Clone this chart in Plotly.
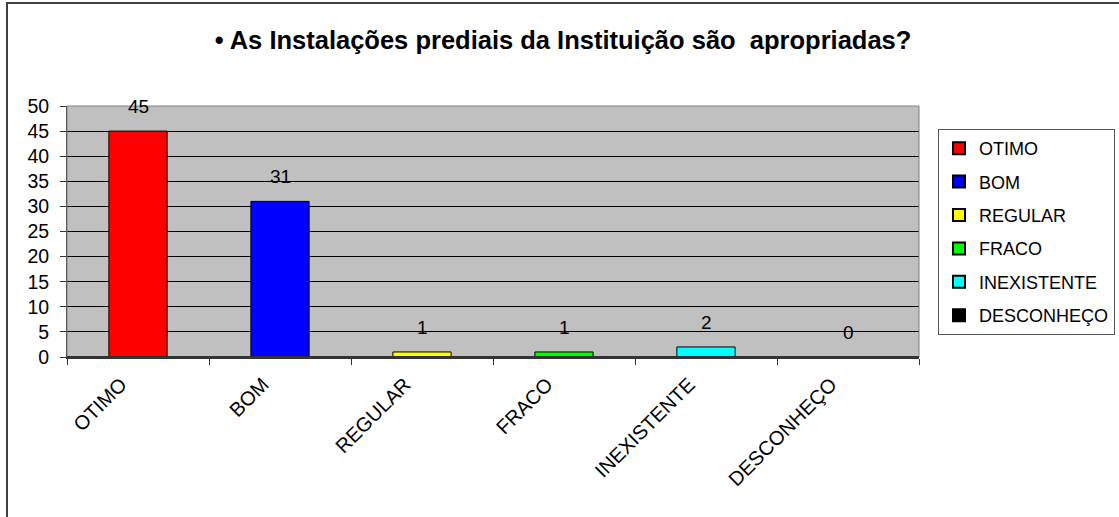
import plotly.graph_objects as go

categories = ["OTIMO", "BOM", "REGULAR", "FRACO", "INEXISTENTE", "DESCONHEÇO"]
values = [45, 31, 1, 1, 2, 0]
colors = ["#FF0000", "#0000FF", "#FFFF00", "#00FF00", "#00FFFF", "#000000"]
title_text = "• As Instalações prediais da Instituição são  apropriadas?"

W, H = 1119, 517
L, R, T, B = 67, 200, 106, 160
pw = W - L - R
ph = H - T - B
FONT = "Liberation Sans, Arial, sans-serif"

fig = go.Figure()
for i, (c, v, col) in enumerate(zip(categories, values, colors)):
    fig.add_trace(go.Bar(
        x=[c], y=[v], name=c, width=0.41,
        marker=dict(color=col, line=dict(color="black", width=1)),
        legendgroup=str(i),
    ))

annotations = [
    dict(x=c, y=v, xref="x", yref="y", text=str(v), showarrow=False,
         yanchor="bottom", yshift=12,
         font=dict(family=FONT, size=19, color="black"))
    for c, v in zip(categories, values)
]

fig.update_layout(
    width=W, height=H,
    margin=dict(l=L, r=R, t=T, b=B, autoexpand=False),
    paper_bgcolor="white",
    plot_bgcolor="#C0C0C0",
    barmode="overlay",
    font=dict(family=FONT, color="black"),
    title=dict(text="<b>" + title_text + "</b>", x=563 / W, xanchor="center",
               y=1 - 40 / H, yanchor="middle",
               font=dict(family=FONT, size=25.5, color="black")),
    showlegend=True,
    legend=dict(x=(1115 - L) / pw, xanchor="right", y=(357 - 129) / ph, yanchor="top",
                bgcolor="white", bordercolor="#555555", borderwidth=1,
                font=dict(family=FONT, size=18, color="black"),
                traceorder="grouped", tracegroupgap=7,
                itemsizing="constant", itemwidth=30),
    xaxis=dict(categoryorder="array", categoryarray=categories,
               tickangle=-45, tickfont=dict(family=FONT, size=20),
               ticks="outside", tickson="boundaries", ticklen=6, tickcolor="#333333",
               ticklabelshift=-17, ticklabelstandoff=6,
               showline=True, linecolor="#333333", linewidth=2, mirror=False,
               showgrid=False),
    yaxis=dict(range=[0, 50], dtick=5, tickfont=dict(family=FONT, size=19.5),
               ticks="outside", ticklen=6, tickcolor="#333333",
               ticklabelstandoff=7,
               showgrid=True, gridcolor="#000000", gridwidth=1,
               showline=True, linecolor="#333333", linewidth=1,
               zeroline=False),
    annotations=annotations,
    shapes=[
        dict(type="rect", xref="paper", yref="paper", x0=0, x1=1, y0=0, y1=1,
             line=dict(color="#808080", width=1), fillcolor="rgba(0,0,0,0)", layer="above"),
        dict(type="line", xref="paper", yref="paper", x0=0, x1=1, y0=0, y1=0,
             line=dict(color="#333333", width=2), layer="above"),
        dict(type="rect", xref="paper", yref="paper",
             x0=(7 - L) / pw, x1=(1130 - L) / pw,
             y0=(357 - 530) / ph, y1=(357 - 3) / ph,
             line=dict(color="#404040", width=2), fillcolor="rgba(0,0,0,0)"),
    ],
)

fig.write_html("out.html", config={"displayModeBar": False},
               post_script="document.body.style.margin='0';document.body.style.overflow='hidden';")
